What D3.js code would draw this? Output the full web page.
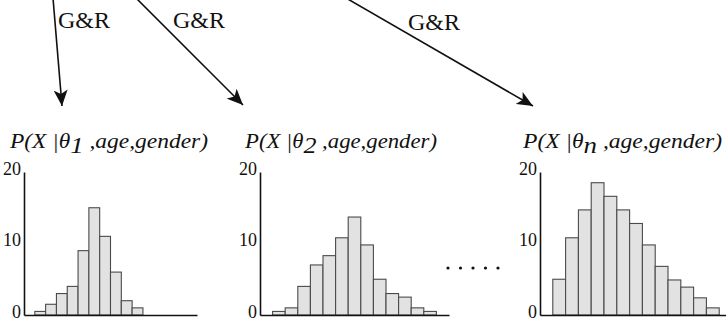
<!DOCTYPE html>
<html>
<head>
<meta charset="utf-8">
<script src="https://cdn.jsdelivr.net/npm/d3@7"></script>
<style>
  html, body { margin: 0; padding: 0; background: #fff; }
  svg { display: block; }
  svg text { font-family: "Liberation Serif", "Times New Roman", Times, serif; }
</style>
</head>
<body>
<script>
// histogram counts, one array per panel
const countsTheta1 = [0.5, 1.5, 3, 4, 9, 15, 11, 6, 2, 1];
const countsTheta2 = [0.5, 1, 4, 7, 8.3, 10.8, 13.7, 9.8, 5, 3, 2.5, 1, 0.5];
const countsThetaN = [5, 10.8, 14.7, 18.5, 16.6, 14.7, 12.8, 9.8, 6.8, 4.9, 3.9, 2.4, 1];
const subscripts = ['1', '2', 'n'];
const yTicks = [0, 10, 20];
const arrowLabel = 'G&R';

const width = 726;
const height = 324;

const svg = d3.select('body')
    .append('svg')
    .attr('width', width)
    .attr('height', height);

// arrow head
svg.append('defs').append('marker')
    .attr('id', 'head')
    .attr('markerUnits', 'userSpaceOnUse')
    .attr('markerWidth', 17)
    .attr('markerHeight', 14)
    .attr('refX', 16)
    .attr('refY', 7)
    .attr('orient', 'auto')
    .append('path')
    .attr('d', 'M0,0 L16,7 L0,14 L4,7 Z')
    .attr('fill', '#111');

// arrows coming from above
const arrows = [
    { x1: 53, y1: -2, x2: 62, y2: 106, lx: 58, ly: 28 },
    { x1: 136, y1: -2, x2: 243, y2: 105, lx: 173, ly: 28 },
    { x1: 346, y1: -2, x2: 533, y2: 106, lx: 408, ly: 30 }
];
svg.selectAll('line.arrow')
    .data(arrows)
    .enter()
    .append('line')
    .attr('class', 'arrow')
    .attr('x1', d => d.x1).attr('y1', d => d.y1)
    .attr('x2', d => d.x2).attr('y2', d => d.y2)
    .attr('stroke', '#111')
    .attr('stroke-width', 1.6)
    .attr('marker-end', 'url(#head)');
svg.selectAll('text.gr')
    .data(arrows)
    .enter()
    .append('text')
    .attr('class', 'gr')
    .attr('x', d => d.lx)
    .attr('y', d => d.ly)
    .style('font-size', '24px')
    .attr('fill', '#111')
    .text(arrowLabel);

// panels
const panels = [
    { counts: countsTheta1, x0: 24, x1: 197, bins: 16, tx: 10, tw: 198 },
    { counts: countsTheta2, x0: 260, x1: 449, bins: 15, tx: 245, tw: 192 },
    { counts: countsThetaN, x0: 540, x1: 726, bins: 14.53, tx: 523, tw: 199 }
];

const yScale = d3.scaleLinear()
    .domain([0, 20])
    .range([315, 172]);

panels.forEach((p, i) => {
    const xScale = d3.scaleLinear()
        .domain([0, p.bins])
        .range([p.x0, p.x1]);

    const g = svg.append('g');

    // bars
    g.selectAll('rect')
        .data(p.counts)
        .enter()
        .append('rect')
        .attr('x', (d, j) => xScale(j + 1))
        .attr('y', d => yScale(d))
        .attr('width', (d, j) => xScale(j + 2) - xScale(j + 1))
        .attr('height', d => yScale(0) - yScale(d))
        .attr('fill', '#e2e2e2')
        .attr('stroke', '#4a4a4a')
        .attr('stroke-width', 1.1);

    // y axis
    const yAxis = g.append('g')
        .attr('transform', `translate(${p.x0},0)`)
        .call(d3.axisLeft(yScale).tickValues(yTicks).tickSize(0).tickPadding(3));
    yAxis.attr('font-family', null).attr('font-size', null);
    yAxis.select('.domain').attr('stroke', '#111').attr('stroke-width', 1.6);
    yAxis.selectAll('text')
        .style('font-size', '18px')
        .attr('fill', '#111')
        .attr('dy', '0.12em');

    // x axis (line only)
    const xAxis = g.append('g')
        .attr('transform', `translate(0,${yScale(0)})`)
        .call(d3.axisBottom(xScale).tickValues([]).tickSizeOuter(0));
    xAxis.select('.domain').attr('stroke', '#111').attr('stroke-width', 1.6);

    // title
    const t = g.append('text')
        .attr('x', p.tx)
        .attr('y', 148)
        .style('font-style', 'italic')
        .style('font-size', '21px')
        .attr('fill', '#111')
        .attr('textLength', p.tw)
        .attr('lengthAdjust', 'spacingAndGlyphs');
    t.append('tspan').text('P(X |\u03b8');
    t.append('tspan').attr('dy', 5).style('font-size', '24px').text(subscripts[i]);
    t.append('tspan').attr('dy', -5).text(' ,age,gender)');
});

// ellipsis between panels 2 and 3
const dotScale = d3.scaleLinear().domain([0, 4]).range([448, 498]);
svg.selectAll('circle.dot')
    .data(d3.range(5))
    .enter()
    .append('circle')
    .attr('class', 'dot')
    .attr('cx', d => dotScale(d))
    .attr('cy', 268)
    .attr('r', 1.6)
    .attr('fill', '#111');
</script>
</body>
</html>
